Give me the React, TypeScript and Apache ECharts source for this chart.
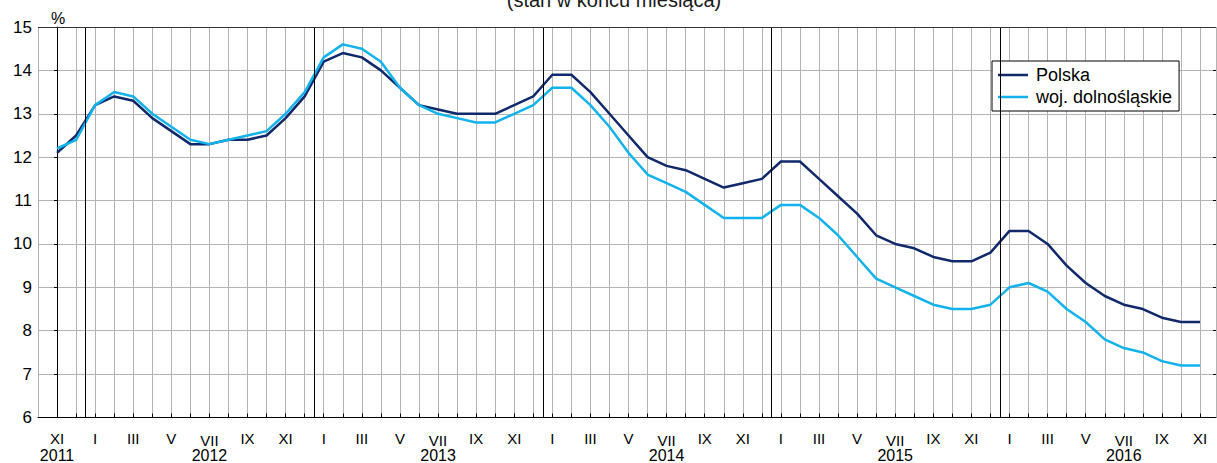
import React, { useEffect, useRef } from "react";
import * as echarts from "echarts";

const monthNames = ["I", "II", "III", "IV", "V", "VI", "VII", "VIII", "IX", "X", "XI", "XII"];
const startMonth = 10; // XI (0-based)
const yearLabelIdx: Record<number, string> = { 0: "2011", 8: "2012", 20: "2013", 32: "2014", 44: "2015", 56: "2016" };
const yearBoundaries = [1.5, 13.5, 25.5, 37.5, 49.5];

const polska = [
  12.1, 12.5,
  13.2, 13.4, 13.3, 12.9, 12.6, 12.3, 12.3, 12.4, 12.4, 12.5, 12.9, 13.4,
  14.2, 14.4, 14.3, 14.0, 13.6, 13.2, 13.1, 13.0, 13.0, 13.0, 13.2, 13.4,
  13.9, 13.9, 13.5, 13.0, 12.5, 12.0, 11.8, 11.7, 11.5, 11.3, 11.4, 11.5,
  11.9, 11.9, 11.5, 11.1, 10.7, 10.2, 10.0, 9.9, 9.7, 9.6, 9.6, 9.8,
  10.3, 10.3, 10.0, 9.5, 9.1, 8.8, 8.6, 8.5, 8.3, 8.2, 8.2,
];
const dolnoslaskie = [
  12.2, 12.4,
  13.2, 13.5, 13.4, 13.0, 12.7, 12.4, 12.3, 12.4, 12.5, 12.6, 13.0, 13.5,
  14.3, 14.6, 14.5, 14.2, 13.6, 13.2, 13.0, 12.9, 12.8, 12.8, 13.0, 13.2,
  13.6, 13.6, 13.2, 12.7, 12.1, 11.6, 11.4, 11.2, 10.9, 10.6, 10.6, 10.6,
  10.9, 10.9, 10.6, 10.2, 9.7, 9.2, 9.0, 8.8, 8.6, 8.5, 8.5, 8.6,
  9.0, 9.1, 8.9, 8.5, 8.2, 7.8, 7.6, 7.5, 7.3, 7.2, 7.2,
];

const FONT = "'Liberation Sans', Arial, sans-serif";

export default function App() {
  const ref = useRef<HTMLDivElement>(null);
  useEffect(() => {
    if (!ref.current) return;
    const chart = echarts.init(ref.current, null, { renderer: "svg" });
    const xMax = 60.84;
    const labelFor = (v: number) => {
      if (Math.abs(v - Math.round(v)) > 1e-6) return "";
      const i = Math.round(v);
      if (i < 0 || i % 2 !== 0) return "";
      const m = monthNames[(startMonth + i) % 12];
      const style = m === "VII" ? "v" : "m";
      const y = yearLabelIdx[i];
      return y ? `{${style}|${m}}\n{y|${y}}` : `{${style}|${m}}`;
    };
    chart.setOption({
      animation: false,
      textStyle: { fontFamily: FONT },
      graphic: [
        {
          type: "text",
          x: 614,
          y: 0,
          style: {
            text: "(stan w końcu miesiąca)",
            fontSize: 20,
            fontFamily: FONT,
            fill: "#1a1a1a",
            align: "center",
            verticalAlign: "middle",
          },
        },
        {
          type: "text",
          x: 51,
          y: 10,
          style: { text: "%", fontSize: 16, fontFamily: FONT, fill: "#000" },
        },
      ],
      legend: {
        left: 992,
        top: 61,
        orient: "vertical",
        borderColor: "#000",
        borderWidth: 1,
        backgroundColor: "#fff",
        padding: [5, 7, 5, 6],
        itemGap: 4,
        itemWidth: 30,
        itemHeight: 2.5,
        icon: "rect",
        textStyle: { fontSize: 18, color: "#000", fontFamily: FONT, padding: [0, 0, 0, 3] },
        data: ["Polska", "woj. dolnośląskie"],
      },
      grid: { left: 38, top: 27, right: 1, bottom: 44 },
      xAxis: {
        type: "value",
        min: -1,
        max: xMax,
        interval: 1,
        axisLine: { show: true, lineStyle: { color: "#000", width: 1 } },
        axisTick: { show: true, inside: true, length: 4, lineStyle: { color: "#000" } },
        splitLine: { show: true, lineStyle: { color: "#b3b3b3", width: 1 } },
        axisLabel: {
          margin: 12,
          formatter: labelFor,
          showMaxLabel: false,
          showMinLabel: false,
          rich: {
            m: { fontSize: 15, color: "#000", fontFamily: FONT, lineHeight: 17 },
            v: { fontSize: 15, color: "#000", fontFamily: FONT, lineHeight: 17, padding: [4, 0, 0, 0] },
            y: { fontSize: 16, color: "#000", fontFamily: FONT, lineHeight: 17 },
          },
        },
      },
      yAxis: [
        {
          type: "value",
          min: 6,
          max: 15,
          interval: 1,
          axisLine: { show: true, lineStyle: { color: "#000", width: 1 } },
          axisTick: { show: true, length: 3, lineStyle: { color: "#000" } },
          splitLine: { show: true, lineStyle: { color: "#b3b3b3", width: 1 } },
          axisLabel: { fontSize: 17, color: "#000", margin: 6, fontFamily: FONT },
        },
        {
          type: "value",
          position: "right",
          min: 6,
          max: 15,
          interval: 1,
          axisLine: { show: false },
          axisTick: { show: true, inside: true, length: 3, lineStyle: { color: "#000" } },
          splitLine: { show: false },
          axisLabel: { show: false },
        },
      ],
      series: [
        {
          name: "Polska",
          type: "line",
          data: polska.map((v, i) => [i, v]),
          showSymbol: false,
          symbol: "none",
          lineStyle: { color: "#10296b", width: 2.5 },
          itemStyle: { color: "#10296b" },
          z: 3,
          markLine: {
            silent: true,
            symbol: "none",
            label: { show: false },
            lineStyle: { color: "#000", width: 1, type: "solid" },
            data: [
              ...yearBoundaries.map((x) => ({ xAxis: x })),
              { yAxis: 15, lineStyle: { color: "#333", width: 1.2, type: "solid" } },
            ],
          },
        },
        {
          name: "woj. dolnośląskie",
          type: "line",
          data: dolnoslaskie.map((v, i) => [i, v]),
          showSymbol: false,
          symbol: "none",
          lineStyle: { color: "#12b2ec", width: 2.5 },
          itemStyle: { color: "#12b2ec" },
          z: 4,
        },
      ],
    });
    return () => chart.dispose();
  }, []);
  return (
    <div
      ref={ref}
      style={{ position: "absolute", left: 0, top: 0, width: 1217, height: 463, background: "#fff" }}
    />
  );
}
